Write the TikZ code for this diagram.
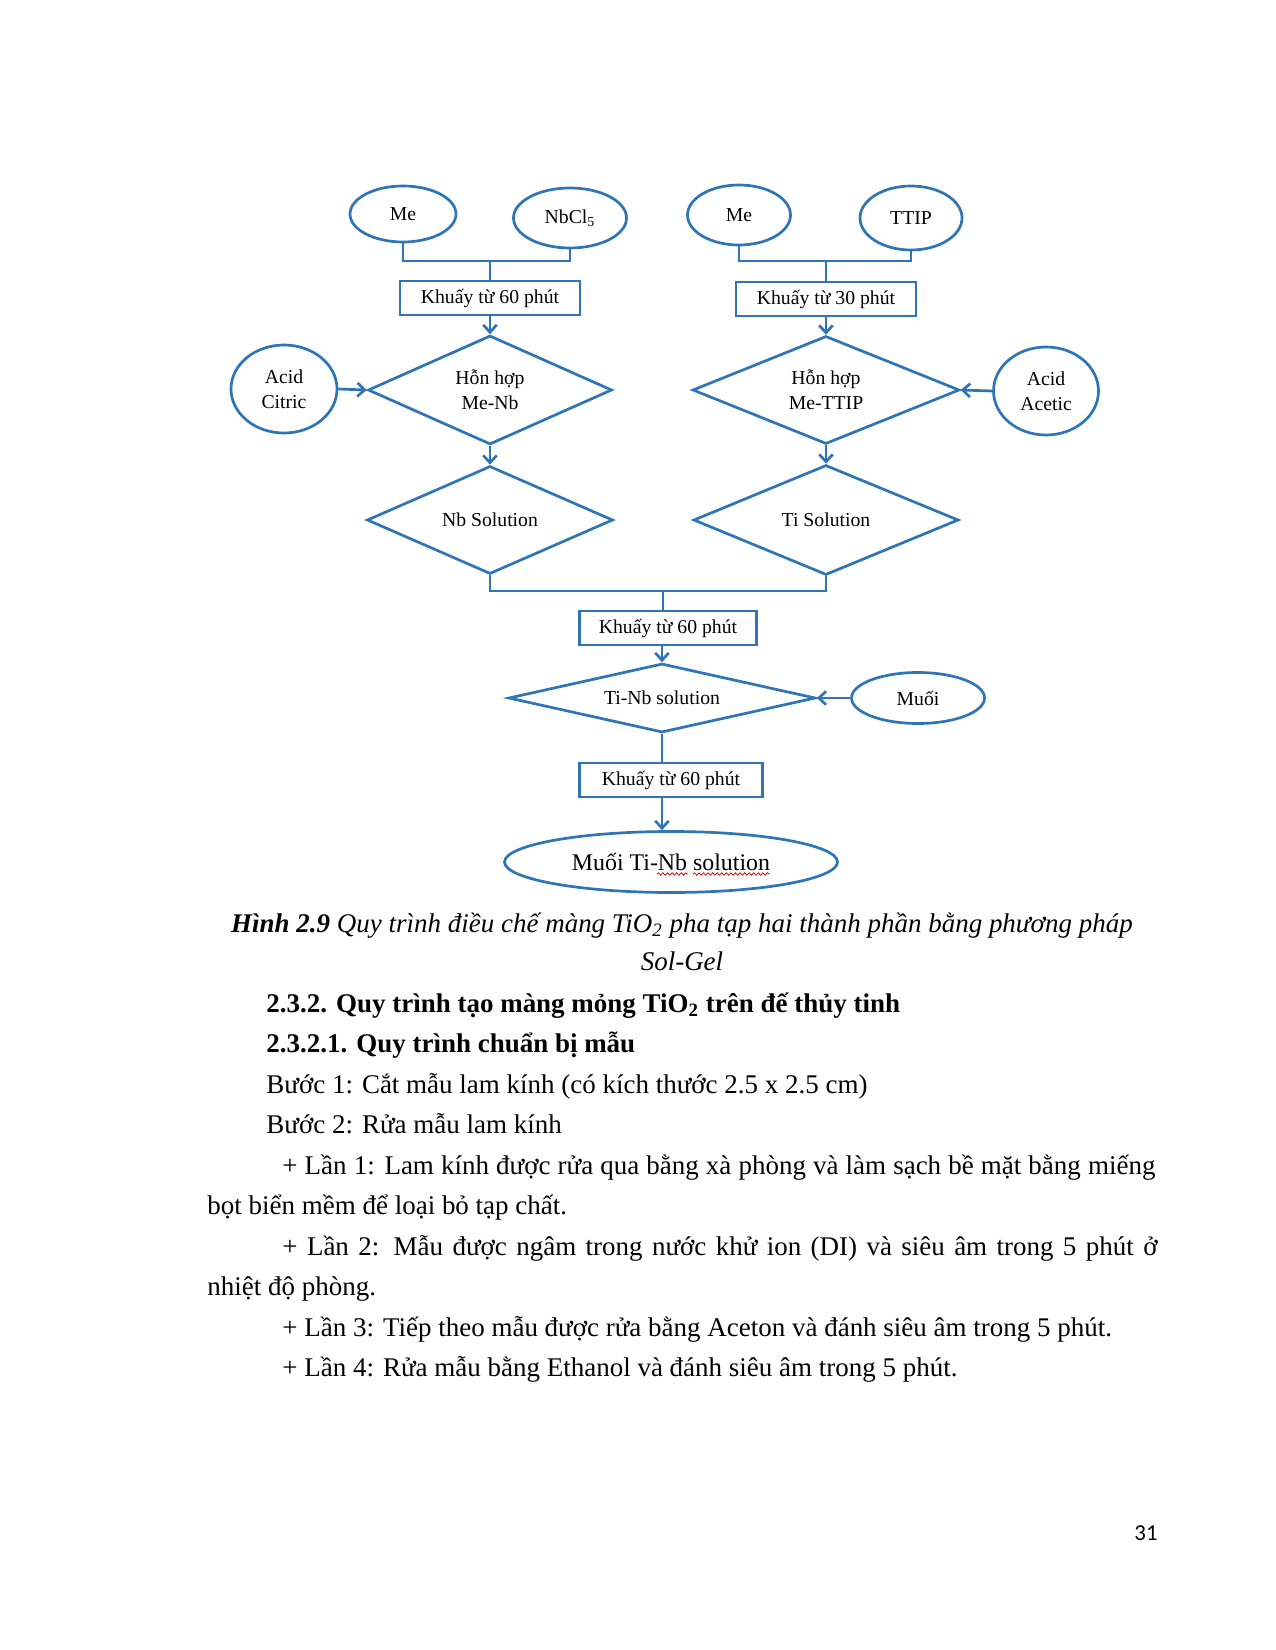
\documentclass[tikz,border=0pt]{standalone}
\usepackage{fontspec}
\setmainfont{Liberation Serif}
\newfontfamily\pagenumfont{Carlito}
\usetikzlibrary{shapes.geometric,arrows.meta,decorations.pathmorphing,calc}
\newlength\pxu \setlength\pxu{0.4818pt}
\definecolor{flow}{RGB}{46,117,182}
\begin{document}
\begin{tikzpicture}[x=0.4818pt,y=-0.4818pt,
  conn/.style={draw=flow, line width=1.3pt},
  arr/.style={conn, -{Straight Barb[length=3.5pt,width=6.5pt]}},
  oval/.style={ellipse, draw=flow, line width=1.3pt, inner sep=0pt, align=center, font=\fontsize{9.5}{12}\selectfont},
  stepbox/.style={rectangle, draw=flow, line width=1.3pt, inner sep=0pt, minimum height=34\pxu, font=\fontsize{9.5}{12}\selectfont},
  dia/.style={diamond, draw=flow, line width=1.3pt, inner sep=0pt, align=center, font=\fontsize{9.5}{12}\selectfont},
  body/.style={inner sep=0pt, anchor=west, text height=9pt, text depth=3pt, font=\fontsize{13}{15.6}\selectfont},
  wavy/.style={draw=red!80!black, line width=0.35pt, decorate, decoration={snake, amplitude=0.6pt, segment length=2.2pt}}
]
\fill[white] (0,0) rectangle (1275,1650);
\useasboundingbox (0,0) rectangle (1275,1650);

% top row
\node[oval, minimum width=106\pxu, minimum height=56\pxu] (me1) at (403,214) {Me};
\node[oval, minimum width=113\pxu, minimum height=60\pxu] (nb) at (570,218) {NbCl\textsubscript{5}};
\node[oval, minimum width=103\pxu, minimum height=60\pxu] (me2) at (739,215) {Me};
\node[oval, minimum width=102\pxu, minimum height=64\pxu] (ttip) at (911,218) {TTIP};

\node[stepbox, minimum width=180\pxu] (k1) at (490,298) {Khuấy từ 60 phút};
\node[stepbox, minimum width=180\pxu] (k2) at (826,299) {Khuấy từ 30 phút};

\node[dia, aspect=2.2, minimum width=244\pxu, minimum height=109\pxu] (h1) at (490,390) {Hỗn hợp\\Me-Nb};
\node[dia, aspect=2.2, minimum width=267\pxu, minimum height=108\pxu] (h2) at (826,390) {Hỗn hợp\\Me-TTIP};
\node[oval, minimum width=106\pxu, minimum height=88\pxu] (ac) at (284,389) {Acid\\Citric};
\node[oval, minimum width=105\pxu, minimum height=88\pxu] (aa) at (1046,391) {Acid\\Acetic};

\node[dia, aspect=2.3, minimum width=246\pxu, minimum height=108\pxu] (nbs) at (490,520) {Nb Solution};
\node[dia, aspect=2.3, minimum width=265\pxu, minimum height=110\pxu] (tis) at (826,520) {Ti Solution};

\node[stepbox, minimum width=177\pxu] (k3) at (668,628) {Khuấy từ 60 phút};
\node[dia, aspect=4.4, minimum width=307\pxu, minimum height=69\pxu] (tinb) at (662,698) {Ti-Nb solution};
\node[oval, minimum width=133\pxu, minimum height=51\pxu] (muoi) at (918,698) {Muối};
\node[stepbox, minimum width=183\pxu] (k4) at (671,780) {Khuấy từ 60 phút};
\node[oval, minimum width=333\pxu, minimum height=61\pxu, font=\fontsize{11.5}{14}\selectfont] (final) at (671,862) {Muối Ti-Nb solution};

% connectors
\coordinate (j1) at (490,261);
\coordinate (j2) at (826,261);
\coordinate (j3) at (663,591);
\draw[conn] (me1.south) |- (j1) -| (nb.south);
\draw[conn] (j1) -- (k1.north);
\draw[conn] (me2.south) |- (j2) -| (ttip.south);
\draw[conn] (j2) -- (k2.north);
\draw[arr] (k1.south) -- (h1.north);
\draw[arr] (k2.south) -- (h2.north);
\draw[arr] (ac.east) -- (h1.west);
\draw[arr] (aa.west) -- (h2.east);
\draw[arr] (h1.south) -- (nbs.north);
\draw[arr] (h2.south) -- (tis.north);
\draw[conn] (nbs.south) |- (j3) -| (tis.south);
\draw[conn] (j3) -- (j3 |- k3.north);
\draw[arr] (k3.south -| tinb.north) -- (tinb.north);
\draw[arr] (muoi.west) -- (tinb.east);
\draw[conn] (tinb.south) -- (tinb.south |- k4.north);
\draw[arr] (k4.south -| tinb.south) -- (final.north -| tinb.south);

% spell-check underline
\draw[wavy] ($(final.center)+(-14,12)$) -- ($(final.center)+(17,12)$);
\draw[wavy] ($(final.center)+(22,12)$) -- ($(final.center)+(99,12)$);

% caption and text
\node[inner sep=0pt, text height=9pt, text depth=3pt, font=\fontsize{13}{15.6}\selectfont] (cap1) at (682,926) {\textit{\textbf{Hình 2.9} Quy trình điều chế màng TiO\textsubscript{2} pha tạp hai thành phần bằng phương pháp}};
\node[inner sep=0pt, text height=9pt, text depth=3pt, font=\fontsize{13}{15.6}\selectfont] (cap2) at (682,964) {\textit{Sol-Gel}};
\node[body] (t1) at (266,1006) {\textbf{2.3.2. Quy trình tạo màng mỏng TiO\textsubscript{2} trên đế thủy tinh}};
\node[body] (t2) at (266,1046) {\textbf{2.3.2.1. Quy trình chuẩn bị mẫu}};
\node[body] (t3) at (266,1087) {Bước 1: Cắt mẫu lam kính (có kích thước 2.5 x 2.5 cm)};
\node[body] (t4) at (266,1127) {Bước 2: Rửa mẫu lam kính};
\node[body] (t5) at (282,1168) {\makebox[420.6pt][s]{+ Lần 1: Lam kính được rửa qua bằng xà phòng và làm sạch bề mặt bằng miếng}};
\node[body] (t6) at (207,1208) {bọt biển mềm để loại bỏ tạp chất.};
\node[body] (t7) at (282,1249) {\makebox[421.6pt][s]{+ Lần 2: Mẫu được ngâm trong nước khử ion (DI) và siêu âm trong 5 phút ở}};
\node[body] (t8) at (207,1289) {nhiệt độ phòng.};
\node[body] (t9) at (282,1330) {+ Lần 3: Tiếp theo mẫu được rửa bằng Aceton và đánh siêu âm trong 5 phút.};
\node[body] (t10) at (282,1370) {+ Lần 4: Rửa mẫu bằng Ethanol và đánh siêu âm trong 5 phút.};
\node[inner sep=0pt, font=\pagenumfont\fontsize{11}{13}\selectfont] (pn) at (1146,1533) {31};
\end{tikzpicture}
\end{document}
